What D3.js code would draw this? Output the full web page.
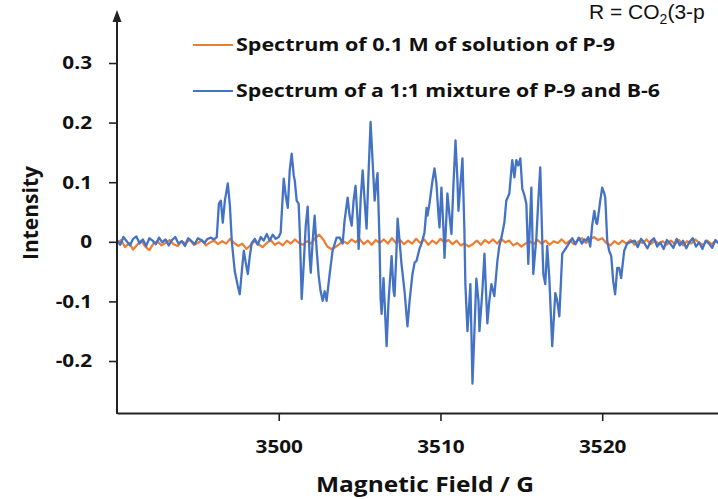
<!DOCTYPE html>
<html><head><meta charset="utf-8">
<script src="https://cdn.jsdelivr.net/npm/d3@7"></script>
<style>body{margin:0;background:#fff} svg{display:block}</style>
</head><body>
<svg id="c" width="718" height="499"></svg>
<script>
const fieldTicks = [3500, 3510, 3520];
const intensityTicks = [0.3, 0.2, 0.1, 0, -0.1, -0.2];
const seriesLabels = ["Spectrum of 0.1 M of solution of P-9", "Spectrum of a 1:1 mixture of P-9 and B-6"];
const seriesColors = ["#ED7D31", "#4472C4"];
const xTitle = "Magnetic Field / G";
const yTitle = "Intensity";

// orange: 0.1 M solution of P-9, sampled every 0.25 G from 3490 G
const solutionStartField = 3490;
const solutionFieldStep = 0.25;
const solutionIntensity = [
 -0.004, 0.003, -0.009, -0.002, -0.013, -0.005, 0.002, -0.008, -0.014, -0.003, 0.001, -0.006, -0.002,
 0.003, -0.004, -0.007, 0.001, -0.003, 0.004, -0.005, -0.002, 0.003, -0.006, -0.001, 0.002,
 -0.004, 0.001, -0.003, 0.005, -0.002, -0.007, -0.003, -0.012, -0.006, 0.001, -0.004, -0.009, -0.002, 0.003, -0.005, -0.001,
 -0.006, 0.002, -0.003, 0.004, -0.002, -0.005, 0.001, -0.003, 0.006, 0.012, 0.004, -0.008, -0.012, -0.009, -0.004, 0.001,
 -0.003, 0.004, -0.001, 0.005, -0.004, 0.002, -0.005, 0.003, -0.002, 0.004, -0.003, 0.006, -0.002, 0.003, -0.004, 0.002,
 -0.003, 0.005, -0.002, 0.004, -0.005, 0.002, -0.003, 0.005, -0.001, 0.003, -0.004, 0.002, -0.006, -0.003, -0.008, -0.004,
 0.002, -0.005, 0.003, -0.002, 0.004, -0.003, 0.005, -0.001, 0.002, -0.006, -0.002, -0.008, -0.003, 0.001, -0.004, 0.003,
 -0.003, 0.002, -0.005, 0.001, -0.002, 0.004, -0.003, 0.002, -0.004, 0.003, 0.006, -0.002, 0.004, 0.008, 0.003, 0.006,
 -0.002, -0.006, 0.001, -0.004, 0.002, -0.003, 0.003, -0.005, 0.001, -0.002, 0.004, -0.004, 0.002, -0.003, 0.001, -0.005,
 0.002, -0.004, 0.003, -0.006, 0.001, -0.003, 0.004, -0.002, -0.005, 0.002, -0.004, 0.001, -0.003
];

// blue: 1:1 mixture of P-9 and B-6, [field G, intensity]
const mixtureSpectrum = [
 [3490.0,0.003],[3490.2,-0.005],[3490.4,0.008],[3490.6,0.001],[3490.8,-0.006],[3491.0,0.005],[3491.2,0.009],[3491.4,-0.003],
 [3491.6,0.004],[3491.8,-0.007],[3492.0,0.006],[3492.2,0.002],[3492.4,-0.004],[3492.6,0.007],[3492.8,-0.001],[3493.0,0.004],
 [3493.2,-0.006],[3493.4,0.003],[3493.6,0.008],[3493.8,-0.003],[3494.0,0.001],[3494.2,-0.007],[3494.4,0.006],[3494.6,0.001],
 [3494.8,-0.004],[3495.0,0.006],[3495.2,0.003],[3495.4,-0.002],[3495.6,0.005],[3495.8,0.007],[3496.0,0.004],
 [3496.17,0.008],[3496.30,0.064],[3496.42,0.069],[3496.54,0.032],[3496.67,0.069],[3496.85,0.098],[3496.98,0.061],[3497.10,0.000],
 [3497.28,-0.049],[3497.47,-0.074],[3497.59,-0.088],[3497.72,-0.049],[3497.84,-0.015],[3497.96,-0.035],[3498.09,-0.054],[3498.21,-0.024],
 [3498.33,-0.002],[3498.52,0.005],[3498.70,-0.005],[3498.89,0.008],[3499.07,0.002],[3499.26,0.013],[3499.44,0.002],[3499.63,0.012],
 [3499.81,0.005],[3500.00,0.008],
 [3500.12,0.015],[3500.25,0.078],[3500.31,0.106],[3500.43,0.078],[3500.56,0.057],[3500.68,0.120],[3500.80,0.148],[3500.93,0.111],
 [3500.99,0.103],[3501.11,0.069],[3501.23,0.064],[3501.30,0.019],[3501.42,-0.096],[3501.54,-0.040],[3501.67,0.027],[3501.79,0.059],
 [3501.91,-0.024],[3501.98,-0.052],[3502.10,0.002],[3502.22,0.044],[3502.35,-0.015],[3502.47,-0.057],[3502.59,-0.083],[3502.72,-0.099],
 [3502.84,-0.083],[3502.96,-0.099],[3503.15,-0.054],[3503.33,-0.015],[3503.58,0.007],[3503.77,0.007],[3503.95,-0.003],
 [3504.07,0.035],[3504.26,0.074],[3504.38,0.044],[3504.51,0.027],[3504.63,0.069],[3504.75,0.094],[3504.88,0.035],[3504.94,-0.012],
 [3505.06,0.069],[3505.19,0.120],[3505.31,0.069],[3505.43,0.022],[3505.56,0.120],[3505.68,0.201],[3505.80,0.137],[3505.93,0.069],
 [3506.05,0.103],[3506.11,0.115],[3506.23,0.002],[3506.30,-0.096],[3506.36,-0.121],[3506.48,-0.061],[3506.67,-0.175],[3506.79,-0.099],
 [3506.98,-0.024],[3507.10,-0.083],[3507.16,-0.091],[3507.28,-0.015],[3507.35,0.039],[3507.47,0.002],[3507.59,-0.037],[3507.78,-0.083],
 [3507.96,-0.142],[3508.09,-0.099],[3508.27,-0.054],[3508.40,-0.035],[3508.52,-0.032],[3508.70,-0.012],[3508.83,-0.003],
 [3509.01,0.015],[3509.14,0.057],[3509.20,0.044],[3509.32,0.064],[3509.51,0.103],[3509.63,0.123],[3509.75,0.098],[3509.88,0.044],
 [3509.94,0.024],[3510.06,0.091],[3510.19,0.019],[3510.25,-0.027],[3510.37,0.044],[3510.43,0.081],[3510.56,0.044],[3510.68,0.013],
 [3510.80,0.094],[3510.93,0.170],[3511.05,0.103],[3511.11,0.052],[3511.23,0.094],[3511.36,0.140],[3511.48,0.019],[3511.54,-0.071],
 [3511.67,-0.150],[3511.79,-0.099],[3511.85,-0.071],[3511.98,-0.238],[3512.10,-0.150],[3512.22,-0.062],[3512.35,-0.099],[3512.41,-0.150],
 [3512.59,-0.083],[3512.72,-0.020],[3512.84,-0.099],[3512.90,-0.137],[3513.02,-0.099],[3513.15,-0.071],[3513.33,-0.091],[3513.52,-0.032],
 [3513.64,-0.007],[3513.77,0.007],
 [3513.95,0.032],[3514.07,0.069],[3514.26,0.081],[3514.38,0.120],[3514.44,0.137],[3514.57,0.108],[3514.69,0.137],[3514.81,0.128],
 [3514.94,0.140],[3515.06,0.089],[3515.19,0.078],[3515.31,0.064],[3515.43,-0.037],[3515.49,0.002],[3515.62,0.091],[3515.74,-0.054],
 [3515.86,-0.015],[3515.93,0.007],[3516.05,0.069],[3516.17,0.125],[3516.30,-0.003],[3516.36,-0.054],[3516.48,-0.071],[3516.60,-0.007],
 [3516.73,-0.061],[3516.91,-0.175],[3517.10,-0.086],[3517.22,-0.099],[3517.35,-0.125],[3517.53,-0.020],[3517.78,-0.010],[3517.96,-0.002],
 [3518.15,0.006],[3518.35,-0.004],[3518.55,0.007],[3518.75,-0.003],[3518.90,0.004],
 [3519.01,0.002],[3519.14,0.008],[3519.26,-0.008],[3519.38,0.027],[3519.51,0.052],[3519.63,0.032],[3519.69,0.030],[3519.88,0.069],
 [3520.00,0.091],[3520.12,0.082],[3520.19,0.074],[3520.31,0.002],[3520.43,-0.015],[3520.56,-0.024],[3520.68,-0.066],[3520.80,-0.088],
 [3520.93,-0.044],[3521.05,-0.044],[3521.17,-0.061],[3521.36,-0.015],[3521.54,-0.003],[3521.79,0.000],
 [3522.0,0.002],[3522.2,-0.009],[3522.4,0.005],[3522.6,-0.002],[3522.8,-0.011],[3523.0,0.001],[3523.2,0.006],[3523.4,-0.008],
 [3523.6,-0.001],[3523.8,-0.012],[3524.0,0.003],[3524.2,-0.003],[3524.4,-0.010],[3524.6,0.005],[3524.8,-0.006],[3525.0,0.002],
 [3525.2,-0.011],[3525.4,0.000],[3525.6,0.006],[3525.8,-0.008],[3526.0,-0.001],[3526.2,-0.012],[3526.4,0.002],[3526.6,-0.003],
 [3526.8,-0.010],[3527.0,0.003],[3527.2,-0.002]
];

const svg = d3.select("#c");
const W = 718, H = 499;
const left = 117, right = 718, bottom = 413, topTip = 10;

const x = d3.scaleLinear().domain([3490, 3527.16]).range([left, right]);
const y = d3.scaleLinear().domain([-0.2, 0.3]).range([361, 63]);

svg.append("rect").attr("width", W).attr("height", H).attr("fill", "#fff");

svg.append("defs").append("clipPath").attr("id", "plot")
  .append("rect").attr("x", left).attr("y", 0).attr("width", right - left).attr("height", bottom);

const solutionData = solutionIntensity.map((v, i) => [solutionStartField + i * solutionFieldStep, v]);

const line = d3.line().x(d => x(d[0])).y(d => y(d[1]));
const plot = svg.append("g").attr("clip-path", "url(#plot)");
plot.append("path").datum(solutionData).attr("d", line)
  .attr("fill", "none").attr("stroke", seriesColors[0]).attr("stroke-width", 2.2).attr("stroke-linejoin", "round");
plot.append("path").datum(mixtureSpectrum).attr("d", line)
  .attr("fill", "none").attr("stroke", seriesColors[1]).attr("stroke-width", 2.3).attr("stroke-linejoin", "round");

const axisColor = "#222";
const fontFam = "'Open Sans', 'DejaVu Sans', sans-serif";

// x axis
const xAxis = d3.axisBottom(x).tickValues(fieldTicks).tickSize(8).tickSizeOuter(0).tickFormat(d3.format("d"));
const gx = svg.append("g").attr("transform", `translate(0,${bottom})`).call(xAxis);
gx.select(".domain").attr("stroke", axisColor).attr("stroke-width", 2);
gx.selectAll(".tick line").attr("stroke", axisColor).attr("stroke-width", 1.6);
gx.selectAll(".tick text").attr("fill", "#111").attr("font-family", fontFam).attr("font-weight", "bold")
  .attr("font-size", 17).attr("y", 0).attr("dy", 0)
  .attr("transform", "translate(0,40) scale(1.22,1)");

// y axis
const yAxis = d3.axisLeft(y).tickValues(intensityTicks).tickSize(8).tickSizeOuter(0)
  .tickFormat(d => d === 0 ? "0" : String(d));
const gy = svg.append("g").attr("transform", `translate(${left},0)`).call(yAxis);
gy.select(".domain").remove();
gy.selectAll(".tick line").attr("stroke", axisColor).attr("stroke-width", 1.6);
gy.selectAll(".tick text").attr("fill", "#111").attr("font-family", fontFam).attr("font-weight", "bold")
  .attr("font-size", 17).attr("x", 0).attr("dy", "0.35em").attr("text-anchor", "end")
  .attr("transform", "translate(-25,0) scale(1.22,1)");
svg.append("line").attr("x1", left).attr("x2", left).attr("y1", bottom + 1).attr("y2", topTip + 8)
  .attr("stroke", axisColor).attr("stroke-width", 2);
svg.append("path").attr("d", `M${left},${topTip} L${left - 4.5},${topTip + 12} L${left + 4.5},${topTip + 12} Z`)
  .attr("fill", axisColor);

// axis titles
svg.append("text").attr("x", 425).attr("y", 492).attr("text-anchor", "middle")
  .attr("font-family", fontFam).attr("font-weight", "bold").attr("font-size", 21).attr("fill", "#111")
  .attr("textLength", 218).attr("lengthAdjust", "spacingAndGlyphs").text(xTitle);
svg.append("text").attr("transform", "translate(38,213) rotate(-90)").attr("text-anchor", "middle")
  .attr("font-family", fontFam).attr("font-weight", "bold").attr("font-size", 21).attr("fill", "#111")
  .text(yTitle);

// legend
const legendY = [45, 91];
const legendTextEnd = [615, 660];
seriesLabels.forEach((lab, i) => {
  svg.append("line").attr("x1", 193).attr("x2", 233).attr("y1", legendY[i]).attr("y2", legendY[i])
    .attr("stroke", seriesColors[i]).attr("stroke-width", 2.2);
  svg.append("text").attr("x", 236).attr("y", legendY[i] + 6)
    .attr("font-family", fontFam).attr("font-weight", "bold").attr("font-size", 17.5).attr("fill", "#111")
    .attr("textLength", legendTextEnd[i] - 236).attr("lengthAdjust", "spacingAndGlyphs").text(lab);
});

// cropped annotation at top right
const ann = svg.append("text").attr("x", 589).attr("y", 19)
  .attr("font-family", "'Liberation Sans', Arial, sans-serif").attr("font-size", 21).attr("fill", "#111");
ann.append("tspan").text("R = CO");
ann.append("tspan").attr("dy", 5).attr("font-size", 14).text("2");
ann.append("tspan").attr("dy", -5).text("(3-p");
</script>
</body></html>
